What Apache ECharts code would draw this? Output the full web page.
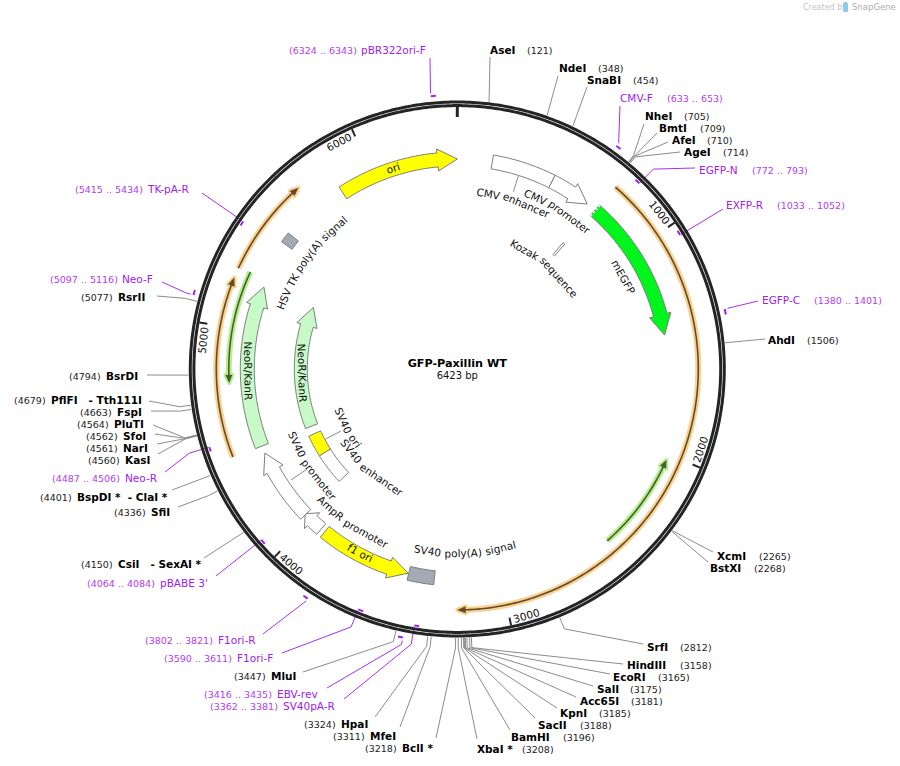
<!DOCTYPE html>
<html>
<head>
<meta charset="utf-8">
<title>GFP-Paxillin WT</title>
<style>
  html, body { margin: 0; padding: 0; background: #fff; }
  #chart { width: 900px; height: 766px; }
</style>
<script src="https://cdn.jsdelivr.net/npm/echarts@6/dist/echarts.min.js"></script>
</head>
<body>
<div id="chart"></div>
<script>
// --- data (all in base pairs) ---
var plasmidName = 'GFP-Paxillin WT';
var plasmidLength = 6423;
var tickValues = [1000, 2000, 3000, 4000, 5000, 6000];

var siteNames = ['AseI', 'NdeI', 'SnaBI', 'NheI', 'BmtI', 'AfeI', 'AgeI', 'AhdI', 'XcmI', 'BstXI', 'SrfI',
  'HindIII', 'EcoRI', 'SalI', 'Acc65I', 'KpnI', 'SacII', 'BamHI', 'XbaI *', 'BclI *', 'MfeI', 'HpaI', 'MluI',
  'CsiI   - SexAI *', 'SfiI', 'BspDI *  - ClaI *', 'KasI', 'NarI', 'SfoI', 'PluTI', 'FspI', 'PflFI   - Tth111I',
  'BsrDI', 'RsrII'];
var sitePositions = [121, 348, 454, 705, 709, 710, 714, 1506, 2265, 2268, 2812,
  3158, 3165, 3175, 3181, 3185, 3188, 3196, 3208, 3218, 3311, 3324, 3447,
  4150, 4336, 4401, 4560, 4561, 4562, 4564, 4663, 4679,
  4794, 5077];

var primerNames = ['pBR322ori-F', 'CMV-F', 'EGFP-N', 'EXFP-R', 'EGFP-C', 'SV40pA-R', 'EBV-rev', 'F1ori-F', 'F1ori-R',
  "pBABE 3'", 'Neo-R', 'Neo-F', 'TK-pA-R'];
var primerStarts = [6324, 633, 772, 1033, 1380, 3362, 3416, 3590, 3802, 4064, 4487, 5097, 5415];
var primerEnds = [6343, 653, 793, 1052, 1401, 3381, 3435, 3611, 3821, 4084, 4506, 5116, 5434];

var featureNames = ['ori', 'CMV enhancer', 'CMV promoter', 'Kozak sequence', 'mEGFP', 'HSV TK poly(A) signal',
  'SV40 poly(A) signal', 'f1 ori', 'AmpR promoter', 'SV40 promoter', 'NeoR/KanR', 'SV40 enhancer', 'SV40 ori', 'NeoR/KanR'];
var featureTails = [5834, 171, 478, 712, 730, 5458, 3323, 3910, 3932, 4036, 4433, 4040, 4243, 4435];
var featureHeads = [6327, 478, 589, 726, 1340, 5510, 3450, 3550, 3992, 4303, 5130, 4243, 4383, 5105];
var featureTips = [6423, 478, 682, 726, 1440, 5510, 3450, 3453, 4040, 4396, 5227, 4243, 4383, 5230];

var translationTails = [731, 4435, 5258, 2478, 5265];
var translationTips = [3212, 5215, 5687, 2025, 4755];

// --- layout and style, separate from the values above ---
var CX = 457.3, CY = 369;
var FONT = '"DejaVu Sans", Verdana, sans-serif';
var ringRadii = [267, 263.4];

var siteNameX = [490, 559, 587, 645, 659, 672, 684, 768, 717, 710, 647,
  627, 613, 597, 580, 560, 538, 511, 477, 402, 370, 341, 271,
  118, 151, 77, 125, 123, 123, 114, 117, 51,
  106, 118];
var sitePosX = [527, 598, 633, 684, 700, 707, 723, 807, 759, 754, 680,
  680, 658, 630, 631, 599, 580, 563, 522, 365, 333, 304, 234,
  81, 114, 40, 88, 86, 86, 77, 80, 14,
  69, 81];
var siteLabelY = [50, 68, 80, 116, 128, 140, 152, 340, 556, 568, 647,
  665, 677, 689, 701, 713, 725, 737, 749, 748, 736, 724, 676,
  564, 512, 497, 460, 448, 436, 424, 412, 400,
  376, 297];
var siteLeaderX = [490, 558, 587, 644, 657, 668, 680, 765, 713, 708, 643,
  623, 610, 593, 576, 557, 535, 510, 477, 436, 400, 375, 303,
  204, 178, 172, 158, 157, 155, 153, 151, 149,
  147, 157];
var siteLeaderY = [57, 76, 87, 124, 133, 142, 152, 339, 552, 562, 644,
  664, 674, 686, 697, 708, 718, 730, 739, 738, 727, 717, 672,
  558, 507, 490, 454, 444, 434, 425, 411, 401,
  375, 296];
var siteElbowR = [0, 0, 0, 277, 277, 277, 277, 0, 0, 0, 281,
  279, 279, 279, 279, 279, 279, 279, 279, 279, 279, 279, 280,
  0, 279, 0, 281, 281, 281, 281, 280, 280,
  0, 281];

var primerMarkR = [274, 274, 260, 260, 274, 260, 274, 260, 274, 260, 260, 274, 260];
var primerElbowR = [0, 278, 280, 0, 0, 279, 281, 279, 0, 0, 281, 282, 0];
var primerNameX = [361, 620, 699, 726, 762, 283, 277, 237, 218, 160, 125, 122, 148];
var primerRangeX = [289, 667, 752, 777, 814, 210, 204, 164, 145, 87, 52, 50, 75];
var primerLabelY = [50, 98, 170, 205, 300, 706, 694, 658, 640, 583, 478, 279, 189];
var primerLeaderX = [430, 620, 695, 723, 758, 344, 327, 282, 263, 216, 165, 162, 202];
var primerLeaderY = [58, 106, 168, 209, 301, 699, 688, 653, 634, 576, 472, 282, 193];

var featureFill = ['#ffff00', '#ffffff', '#ffffff', '#ffffff', '#00f51d', '#a3aab3',
  '#a3aab3', '#ffff00', '#ffffff', '#ffffff', '#c8fac8', '#ffffff', '#ffff00', '#c8fac8'];
var featureInnerR = [203, 203, 203, 149, 203, 204, 203, 203, 203, 203, 203, 150, 150, 150];
var featureOuterR = [217, 217, 217, 165, 217, 217, 217, 217, 217, 217, 217, 163, 163, 163];
var labelR = [211, 178, 189, 137, 190, 187, 184, 208, 188, 177, 209, 134, 125, 155];
var labelBp = [6107, 330, 576, 726, 1088, 5461, 3168, 3708, 3825, 4218, 4808, 3943, 4314, 4791];
var labelFlip = [false, false, false, false, false, false, true, true, true, true, true, true, true, true];

var stubBp = [313, 4216, 4317];
var stubInnerR = [186, 181, 132];
var stubOuterR = [203, 200, 150];

var translationR = [241, 241, 241, 228, 228.5];
var translationHalo = ['#fcd08e', '#fcd08e', '#fcd08e', '#b6f08e', '#b6f08e'];
var translationCore = ['#5e4c2c', '#5e4c2c', '#5e4c2c', '#485c30', '#485c30'];

var measureCtx = document.createElement('canvas').getContext('2d');

function textWidth(text, font) {
  measureCtx.font = font;
  return measureCtx.measureText(text).width;
}

function pt(api, r, bp) {
  return api.coord([r, bp]);
}

// points along an arc, r stays fixed
function arcPoints(api, r, from, to) {
  var steps = Math.max(2, Math.ceil(Math.abs(to - from) / 12));
  var pts = [];
  for (var i = 0; i <= steps; i++) {
    pts.push(pt(api, r, from + (to - from) * i / steps));
  }
  return pts;
}

function plainText(text, x, y, font, fill) {
  return {
    type: 'text',
    x: x,
    y: y,
    style: { text: text, x: 0, y: 0, font: font, fill: fill, align: 'left', verticalAlign: 'middle' }
  };
}

// a label bent along the circle: one text per word, each turned to its own angle
function arcWords(api, text, r, midBp, flip, font) {
  var words = text.split(' ');
  var space = textWidth(' ', font);
  var widths = words.map(function(w) { return textWidth(w, font); });
  var total = widths.reduce(function(a, b) { return a + b; }, 0) + space * (words.length - 1);
  var bpPerPx = plasmidLength / (2 * Math.PI * r);
  var cursor = -total / 2;
  return words.map(function(word, i) {
    var off = cursor + widths[i] / 2;
    cursor += widths[i] + space;
    var bp = midBp + (flip ? -off : off) * bpPerPx;
    var p = pt(api, r, bp);
    var deg = bp / plasmidLength * 360;
    return {
      type: 'text',
      x: p[0],
      y: p[1],
      rotation: (flip ? 180 - deg : -deg) * Math.PI / 180,
      style: { text: word, x: 0, y: 0, font: font, fill: '#111', align: 'center', verticalAlign: 'middle' }
    };
  });
}

function renderRing(params, api) {
  var children = ringRadii.map(function(r) {
    return {
      type: 'polyline',
      shape: { points: arcPoints(api, r, 0, plasmidLength) },
      style: { stroke: '#242424', lineWidth: 3, fill: null }
    };
  });
  children.push({
    type: 'line',
    shape: { x1: pt(api, 262, 0)[0], y1: pt(api, 262, 0)[1], x2: pt(api, 252, 0)[0], y2: pt(api, 252, 0)[1] },
    style: { stroke: '#242424', lineWidth: 3 }
  });
  return { type: 'group', children: children };
}

function renderTick(params, api) {
  var bp = api.value(1);
  var a = pt(api, 262, bp), b = pt(api, 254, bp);
  var upper = bp / plasmidLength < 0.25 || bp / plasmidLength > 0.75;
  var font = '10.5px ' + FONT;
  var shift = 17 * plasmidLength / (2 * Math.PI * 256);
  var words = arcWords(api, String(tickValues[params.dataIndex]), 256, bp - shift, !upper, font);
  return {
    type: 'group',
    children: [{
      type: 'line',
      shape: { x1: a[0], y1: a[1], x2: b[0], y2: b[1] },
      style: { stroke: '#242424', lineWidth: 2 }
    }].concat(words)
  };
}

function renderSite(params, api) {
  var i = params.dataIndex;
  var pts = [pt(api, 269, sitePositions[i])];
  if (siteElbowR[i]) pts.push(pt(api, siteElbowR[i], sitePositions[i]));
  pts.push([siteLeaderX[i], siteLeaderY[i]]);
  return {
    type: 'group',
    children: [
      { type: 'polyline', shape: { points: pts }, style: { stroke: '#8c8c8c', lineWidth: 1, fill: null } },
      plainText(siteNames[i], siteNameX[i], siteLabelY[i], 'bold 10.5px ' + FONT, '#000'),
      plainText('(' + sitePositions[i] + ')', sitePosX[i], siteLabelY[i] + 0.5, '9.5px ' + FONT, '#222')
    ]
  };
}

function renderPrimer(params, api) {
  var i = params.dataIndex;
  var inside = primerMarkR[i] < 265;
  var anchorBp = inside ? primerEnds[i] : primerStarts[i];
  var pts = [pt(api, primerMarkR[i] + (inside ? 1 : 3), anchorBp)];
  if (primerElbowR[i]) pts.push(pt(api, primerElbowR[i], anchorBp));
  pts.push([primerLeaderX[i], primerLeaderY[i]]);
  return {
    type: 'group',
    children: [
      { type: 'polyline', shape: { points: pts }, style: { stroke: '#a72ff0', lineWidth: 1, fill: null } },
      {
        type: 'polyline',
        z2: 5,
        shape: { points: arcPoints(api, primerMarkR[i], primerStarts[i], primerEnds[i]) },
        style: { stroke: '#a020f0', lineWidth: 2, fill: null }
      },
      plainText(primerNames[i], primerNameX[i], primerLabelY[i], '10.5px ' + FONT, '#a020f0'),
      plainText('(' + primerStarts[i] + ' .. ' + primerEnds[i] + ')', primerRangeX[i], primerLabelY[i] + 0.5, '9.5px ' + FONT, '#b040f2')
    ]
  };
}

function renderFeature(params, api) {
  var i = params.dataIndex;
  var rIn = featureInnerR[i], rOut = featureOuterR[i];
  var tail = featureTails[i], head = featureHeads[i], tip = featureTips[i];
  var outer = arcPoints(api, rOut, tail, head);
  var inner = arcPoints(api, rIn, head, tail);
  var pts = outer;
  if (tip !== head) {
    pts = pts.concat([pt(api, rOut + 4, head), pt(api, (rIn + rOut) / 2, tip), pt(api, rIn - 4, head)]);
  }
  pts = pts.concat(inner);
  return {
    type: 'polygon',
    shape: { points: pts },
    style: { fill: featureFill[i], stroke: '#7d7d7d', lineWidth: 1, lineJoin: 'miter' }
  };
}

function renderFeatureLabel(params, api) {
  var i = params.dataIndex;
  return {
    type: 'group',
    children: arcWords(api, featureNames[i], labelR[i], labelBp[i], labelFlip[i], '10.5px ' + FONT)
  };
}

function renderStub(params, api) {
  var i = params.dataIndex;
  var a = pt(api, stubInnerR[i], stubBp[i]), b = pt(api, stubOuterR[i], stubBp[i]);
  return {
    type: 'line',
    shape: { x1: a[0], y1: a[1], x2: b[0], y2: b[1] },
    style: { stroke: '#8c8c8c', lineWidth: 1 }
  };
}

function renderTranslation(params, api) {
  var i = params.dataIndex;
  var r = translationR[i];
  var tail = translationTails[i], tip = translationTips[i];
  var headLen = 36 * (tip > tail ? 1 : -1);
  var line = arcPoints(api, r, tail, tip - headLen / 2);
  var arrow = [pt(api, r + 3.5, tip - headLen), pt(api, r, tip), pt(api, r - 3.5, tip - headLen)];
  return {
    type: 'group',
    children: [
      { type: 'polyline', shape: { points: line }, style: { stroke: translationHalo[i], lineWidth: 6, fill: null, lineCap: 'butt' } },
      { type: 'polygon', shape: { points: arrow }, style: { fill: translationHalo[i], stroke: translationHalo[i], lineWidth: 4, lineJoin: 'round' } },
      { type: 'polyline', shape: { points: line }, style: { stroke: translationCore[i], lineWidth: 1.6, fill: null } },
      { type: 'polygon', shape: { points: arrow }, style: { fill: translationCore[i] } }
    ]
  };
}

// little dashed start mark at the tail of mEGFP
function renderStartMark(params, api) {
  var a = pt(api, 203, api.value(1)), b = pt(api, 217, api.value(1));
  return {
    type: 'line',
    shape: { x1: a[0], y1: a[1], x2: b[0], y2: b[1] },
    style: { stroke: '#fff', lineWidth: 1.5, lineDash: [2, 2] }
  };
}

function customSeries(render, rows, z) {
  return {
    type: 'custom',
    coordinateSystem: 'polar',
    renderItem: render,
    data: rows,
    encode: { radius: 0, angle: 1 },
    silent: true,
    z: z
  };
}

function rowsOf(values, r) {
  return values.map(function(v) { return [r, v]; });
}

var chart = echarts.init(document.getElementById('chart'), null, { renderer: 'svg' });
chart.setOption({
  animation: false,
  backgroundColor: '#fff',
  title: {
    text: plasmidName,
    subtext: plasmidLength + ' bp',
    left: CX,
    top: 358,
    textAlign: 'center',
    itemGap: 1,
    padding: 0,
    textStyle: { fontFamily: FONT, fontSize: 11.2, fontWeight: 'bold', color: '#000' },
    subtextStyle: { fontFamily: FONT, fontSize: 10, color: '#111' }
  },
  polar: { center: [CX, CY], radius: 400 },
  angleAxis: { type: 'value', min: 0, max: plasmidLength, startAngle: 90, clockwise: true, show: false },
  radiusAxis: { type: 'value', min: 0, max: 400, show: false },
  graphic: [
    { type: 'text', x: 803, y: 3, style: { text: 'Created by', font: '8px ' + FONT, fill: '#c4c4c4' } },
    { type: 'rect', shape: { x: 843, y: 2, width: 5, height: 10, r: [2, 2, 0, 2] }, style: { fill: '#8fcbe8' } },
    { type: 'text', x: 852, y: 2, style: { text: 'SnapGene', font: '8.5px ' + FONT, fill: '#adadad' } }
  ],
  series: [
    customSeries(renderSite, rowsOf(sitePositions, 269), 1),
    customSeries(renderPrimer, rowsOf(primerStarts, 262), 1),
    customSeries(renderRing, [[265, 0]], 2),
    customSeries(renderTick, rowsOf(tickValues, 262), 3),
    customSeries(renderStub, rowsOf(stubBp, 200), 3),
    customSeries(renderFeature, rowsOf(featureTails, 210), 4),
    customSeries(renderStartMark, [[210, 733]], 5),
    customSeries(renderTranslation, rowsOf(translationTails, 241), 4),
    customSeries(renderFeatureLabel, rowsOf(labelBp, 200), 6)
  ]
});
window.addEventListener('resize', function() { chart.resize(); });
</script>
</body>
</html>
